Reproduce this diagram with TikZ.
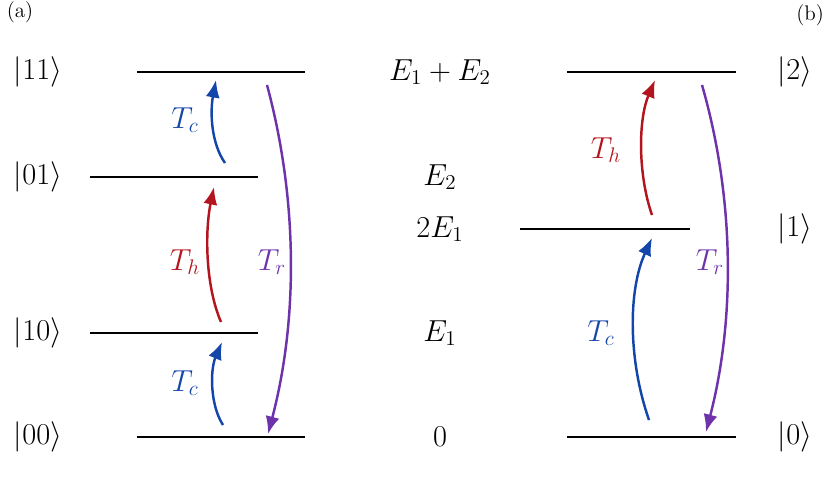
\documentclass[tikz,border=0pt]{standalone}
\usetikzlibrary{arrows.meta}
\definecolor{cb}{RGB}{20,70,170}
\definecolor{cr}{RGB}{180,20,30}
\definecolor{cp}{RGB}{110,50,170}
\begin{document}
\begin{tikzpicture}[x=0.02cm,y=-0.02cm,
  lvl/.style={line width=1.2pt},
  lab/.style={font=\LARGE},
  arr/.style={line width=1.4pt,-{Latex[length=10pt,width=8pt]}},
  txt/.style={font=\LARGE}]
\useasboundingbox (0,0) rectangle (830,482);
\node[font=\large] (pa) at (20,12) {(a)};
\node[font=\large] (pb) at (810,15) {(b)};
% (a) levels
\coordinate (a11l) at (137,72); \coordinate (a11r) at (305,72);
\coordinate (a01l) at (90,177); \coordinate (a01r) at (258,177);
\coordinate (a10l) at (90,333); \coordinate (a10r) at (258,333);
\coordinate (a00l) at (137,437); \coordinate (a00r) at (305,437);
\draw[lvl] (a11l)--(a11r); \draw[lvl] (a01l)--(a01r);
\draw[lvl] (a10l)--(a10r); \draw[lvl] (a00l)--(a00r);
\node[lab] (k11) at (38,72) {$|11\rangle$};
\node[lab] (k01) at (38,177) {$|01\rangle$};
\node[lab] (k10) at (38,333) {$|10\rangle$};
\node[lab] (k00) at (38,437) {$|00\rangle$};
% middle
\node[lab] (m1) at (440,72) {$E_1+E_2$};
\node[lab] (m2) at (440,177) {$E_2$};
\node[lab] (m3) at (440,229) {$2E_1$};
\node[lab] (m4) at (440,333) {$E_1$};
\node[lab] (m5) at (440,437) {$0$};
% (b) levels
\coordinate (b2l) at (567,72); \coordinate (b2r) at (736,72);
\coordinate (b1l) at (520,229); \coordinate (b1r) at (690,229);
\coordinate (b0l) at (567,437); \coordinate (b0r) at (736,437);
\draw[lvl] (b2l)--(b2r); \draw[lvl] (b1l)--(b1r); \draw[lvl] (b0l)--(b0r);
\node[lab] (k2) at (795,72) {$|2\rangle$};
\node[lab] (k1) at (795,229) {$|1\rangle$};
\node[lab] (k0) at (795,437) {$|0\rangle$};
% (a) arrows
\coordinate (s1) at (223,425); \coordinate (e1) at (222,342);
\draw[arr,cb] (s1) .. controls (210,405) and (210,370) .. (e1);
\node[txt,cb] (t1) at (185,383) {$T_c$};
\coordinate (s2) at (221,322); \coordinate (e2) at (214,187);
\draw[arr,cr] (s2) .. controls (205,285) and (205,230) .. (e2);
\node[txt,cr] (t2) at (185,262) {$T_h$};
\coordinate (s3) at (225,163); \coordinate (e3) at (216,80);
\draw[arr,cb] (s3) .. controls (211,143) and (210,112) .. (e3);
\node[txt,cb] (t3) at (185,120) {$T_c$};
\coordinate (s4) at (267,85); \coordinate (e4) at (268,434);
\draw[arr,cp] (s4) .. controls (298,200) and (298,320) .. (e4);
\node[txt,cp] (t4) at (272,262) {$T_r$};
% (b) arrows
\coordinate (s5) at (652,215); \coordinate (e5) at (655,80);
\draw[arr,cr] (s5) .. controls (638,175) and (638,120) .. (e5);
\node[txt,cr] (t5) at (606,150) {$T_h$};
\coordinate (s6) at (649,420); \coordinate (e6) at (652,238);
\draw[arr,cb] (s6) .. controls (628,360) and (628,290) .. (e6);
\node[txt,cb] (t6) at (601,333) {$T_c$};
\coordinate (s7) at (702,85); \coordinate (e7) at (706,432);
\draw[arr,cp] (s7) .. controls (735,200) and (735,320) .. (e7);
\node[txt,cp] (t7) at (710,262) {$T_r$};
\end{tikzpicture}
\end{document}
